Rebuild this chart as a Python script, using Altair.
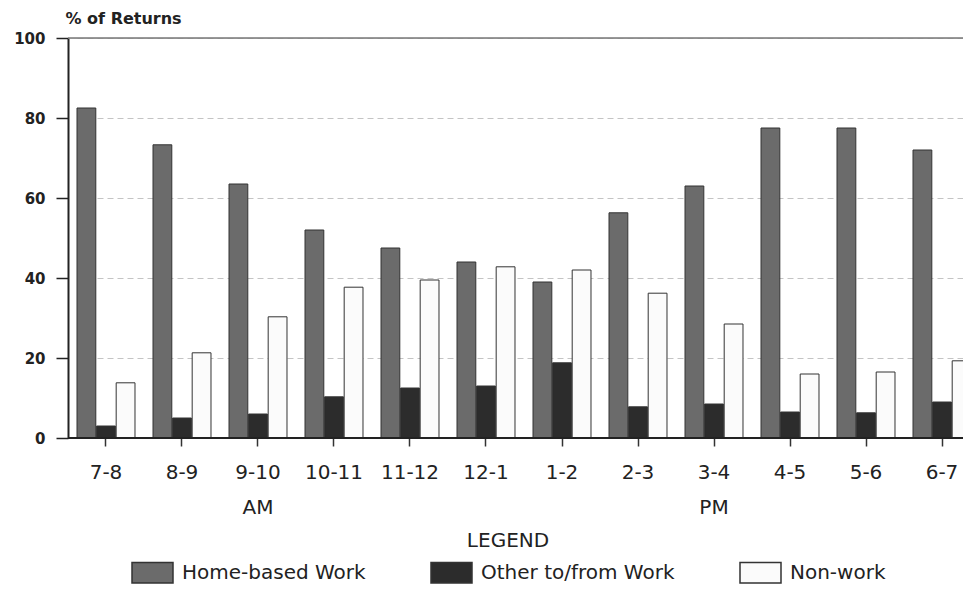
import altair as alt
import pandas as pd

hours = ["7-8", "8-9", "9-10", "10-11", "11-12", "12-1", "1-2", "2-3", "3-4", "4-5", "5-6", "6-7"]
series = ["Home-based Work", "Other to/from Work", "Non-work"]
home = [82.5, 73.3, 63.5, 52.0, 47.5, 44.0, 39.0, 56.3, 63.0, 77.5, 77.5, 72.0]
other = [3.0, 5.0, 6.0, 10.3, 12.5, 13.0, 18.8, 7.8, 8.5, 6.5, 6.3, 9.0]
nonwork = [13.8, 21.3, 30.3, 37.7, 39.5, 42.8, 42.0, 36.2, 28.5, 16.0, 16.5, 19.3]
period_hours = ["9-10", "3-4"]
period_labels = ["AM", "PM"]
y_ticks = [0, 20, 40, 60, 80, 100]
fills = ["#6b6b6b", "#2c2c2c", "#fbfbfb"]

rows = []
for i, h in enumerate(hours):
    for s, vals in zip(series, [home, other, nonwork]):
        rows.append({"hour": h, "series": s, "value": vals[i]})
df = pd.DataFrame(rows)

FONT = "DejaVu Sans"
W, H = 895, 400

x_scale = alt.Scale(domain=hours, range=[9, 903], paddingInner=0.237, paddingOuter=0)
x_axis = alt.Axis(title=None, labelAngle=0, domain=False, ticks=True, tickSize=8,
                  tickColor="#333", tickWidth=1.5, labelFont=FONT, labelFontSize=20,
                  labelColor="#222", labelPadding=16)
y_scale = alt.Scale(domain=[0, 100])
y_axis = alt.Axis(title="% of Returns", titleAngle=0, titleAlign="left", titleBaseline="middle",
                  titleX=-3, titleY=-20, titleFont=FONT, titleFontSize=16, titleFontWeight="bold",
                  titleColor="#222", values=y_ticks, labelFont=FONT, labelFontSize=15,
                  labelFontWeight="bold", labelColor="#222", labelPadding=11, tickSize=12,
                  tickColor="#222", tickWidth=1.5, domainColor="#222", domainWidth=2,
                  grid=True, gridDash=[6, 4], gridColor="#c4c4c4", gridWidth=1)

bars = alt.Chart(df).mark_bar(stroke="#333", strokeWidth=1).encode(
    x=alt.X("hour:N", scale=x_scale, axis=x_axis, sort=hours),
    xOffset=alt.XOffset("series:N", scale=alt.Scale(domain=series, paddingInner=0.04), sort=series),
    y=alt.Y("value:Q", scale=y_scale, axis=y_axis),
    fill=alt.Fill("series:N", scale=alt.Scale(domain=series, range=fills),
                  legend=alt.Legend(title="LEGEND", orient="none", legendX=63, legendY=493,
                                    direction="horizontal", titleAnchor="middle",
                                    titleFont=FONT, titleFontSize=20, titleFontWeight="normal",
                                    titleColor="#222", titlePadding=0, labelFont=FONT,
                                    labelFontSize=20, labelColor="#222", labelOffset=8,
                                    columnPadding=62, symbolType="M-1,-0.5H1V0.5H-1Z",
                                    symbolSize=1681, symbolStrokeColor="#333",
                                    symbolStrokeWidth=1.5, symbolOpacity=1, padding=0,
                                    labelLimit=400)),
)

top_rule = alt.Chart(pd.DataFrame({"value": [100]})).mark_rule(color="#777", strokeWidth=1.5).encode(
    y=alt.Y("value:Q", scale=y_scale, axis=y_axis)
)
base_rule = alt.Chart(pd.DataFrame({"value": [0]})).mark_rule(color="#222", strokeWidth=2).encode(
    y=alt.Y("value:Q", scale=y_scale, axis=y_axis)
)

period = alt.Chart(pd.DataFrame({"hour": period_hours, "label": period_labels})).mark_text(
    font=FONT, fontSize=20, color="#222", baseline="middle"
).encode(
    x=alt.X("hour:N", scale=x_scale, axis=x_axis, sort=hours),
    y=alt.value(470),
    text="label:N",
)

chart = alt.layer(top_rule, bars, base_rule, period).properties(
    width=W, height=H,
    autosize=alt.AutoSizeParams(type="none"),
    padding={"left": 60, "top": 30, "right": 0, "bottom": 147},
).configure_view(stroke=None).configure(background="white")

chart.save("out.html", embed_options={"renderer": "svg", "actions": False})
